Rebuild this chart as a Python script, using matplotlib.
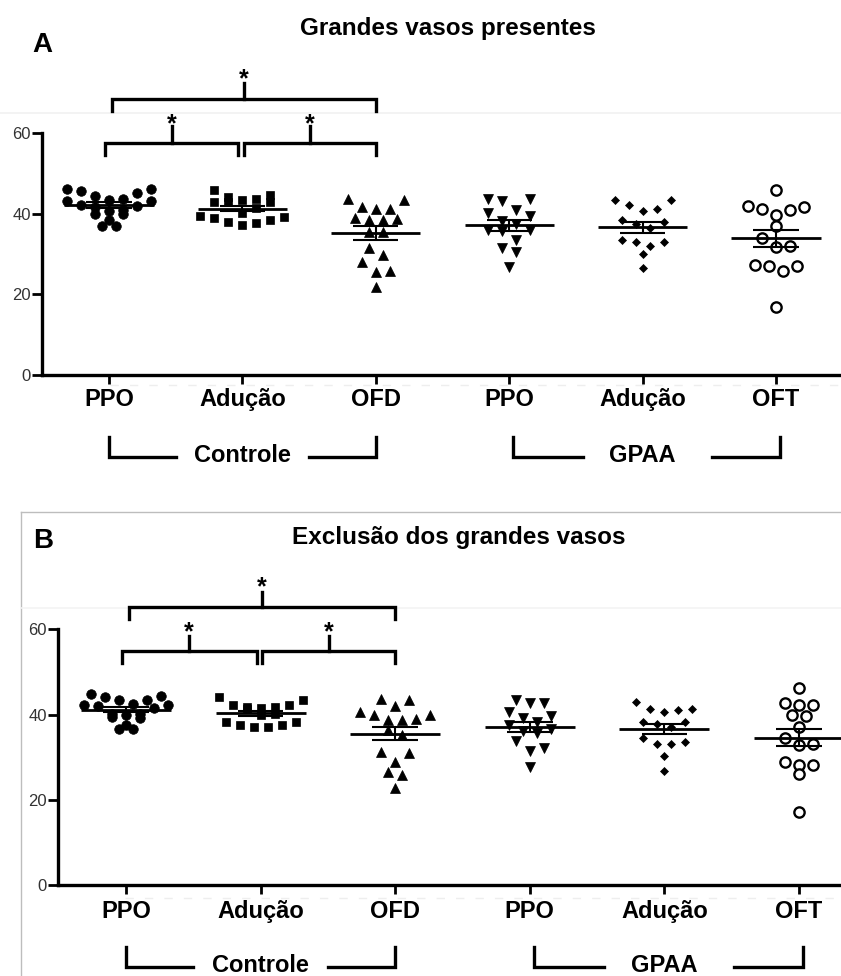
import numpy as np
import matplotlib
matplotlib.use('Agg')
import matplotlib.pyplot as plt
from matplotlib.lines import Line2D
from matplotlib.transforms import blended_transform_factory

plt.rcParams['font.family'] = ['Liberation Sans', 'DejaVu Sans']

# ---------------- data ----------------
categories = ['PPO', 'Adução', 'OFD', 'PPO', 'Adução', 'OFT']
group_names = ['Controle', 'GPAA']
panel_titles = ['Grandes vasos presentes', 'Exclusão dos grandes vasos']
panel_letters = ['A', 'B']
y_ticks = [0, 20, 40, 60]
sig_pairs = [(0, 1), (1, 2), (0, 2)]   # significant comparisons (*) within Controle

# Panel A - Grandes vasos presentes
a_ctrl_ppo = [46.1, 46.1, 45.7, 45.2, 44.4, 43.7, 43.4, 43.3, 43.2, 42.2, 42.0, 41.8,
              41.0, 40.8, 40.0, 40.0, 38.5, 37.0, 37.0]
a_ctrl_adu = [45.9, 44.7, 44.1, 43.7, 43.4, 43.0, 43.0, 43.0, 41.4, 40.3, 39.5, 39.3,
              38.9, 38.5, 38.1, 37.7, 37.2]
a_ctrl_ofd = [43.7, 43.4, 41.6, 41.1, 41.1, 39.0, 38.8, 38.5, 38.5, 35.5, 35.4, 31.5,
              29.8, 28.0, 25.8, 25.6, 21.8]
a_gpaa_ppo = [43.6, 43.6, 43.3, 41.0, 40.2, 39.5, 38.3, 37.6, 36.0, 36.0, 35.8, 33.5,
              31.6, 30.6, 26.8]
a_gpaa_adu = [43.5, 43.4, 42.3, 41.3, 40.8, 38.4, 38.0, 37.4, 36.5, 33.5, 32.9, 32.9,
              32.1, 30.1, 26.5]
a_gpaa_oft = [45.9, 42.0, 41.6, 41.1, 41.0, 39.8, 36.9, 33.9, 32.1, 31.7, 27.2, 27.0,
              27.0, 25.8, 16.8]

# Panel B - Exclusão dos grandes vasos
b_ctrl_ppo = [44.9, 44.3, 44.1, 43.5, 43.4, 42.5, 42.3, 42.3, 42.0, 41.5, 40.2, 40.2,
              39.8, 39.5, 39.3, 37.5, 36.5, 36.5]
b_ctrl_adu = [44.0, 43.4, 42.3, 42.3, 41.8, 41.8, 41.6, 41.4, 40.1, 39.8, 38.3, 38.3,
              37.5, 37.5, 37.1, 37.0]
b_ctrl_ofd = [43.7, 43.5, 41.9, 40.6, 40.0, 40.0, 38.9, 38.7, 38.7, 36.3, 35.2, 31.3,
              30.9, 28.9, 26.4, 25.8, 22.8]
b_gpaa_ppo = [43.4, 42.7, 42.6, 40.6, 39.6, 39.3, 38.3, 37.5, 36.7, 36.2, 35.6, 33.8,
              32.2, 31.4, 27.8]
b_gpaa_adu = [43.0, 41.4, 41.2, 41.0, 40.6, 38.3, 38.3, 37.7, 37.0, 34.6, 33.6, 33.2,
              33.0, 30.3, 26.8]
b_gpaa_oft = [46.3, 42.6, 42.3, 42.2, 39.8, 39.6, 37.1, 34.5, 33.2, 32.8, 28.9, 28.2,
              28.2, 26.0, 17.2]

panel_data = [
    [a_ctrl_ppo, a_ctrl_adu, a_ctrl_ofd, a_gpaa_ppo, a_gpaa_adu, a_gpaa_oft],
    [b_ctrl_ppo, b_ctrl_adu, b_ctrl_ofd, b_gpaa_ppo, b_gpaa_adu, b_gpaa_oft],
]

# ---------------- styles / layout ----------------
marker_styles = [
    dict(marker='o', ms=6.9, mfc='black', mec='black', mew=0.5),
    dict(marker='s', ms=6.0, mfc='black', mec='black', mew=0.5),
    dict(marker='^', ms=6.8, mfc='black', mec='black', mew=0.5),
    dict(marker='v', ms=6.8, mfc='black', mec='black', mew=0.5),
    dict(marker='D', ms=4.4, mfc='black', mec='black', mew=0.5),
    dict(marker='o', ms=7.4, mfc='white', mec='black', mew=1.7),
]

W, H = 841, 976
layouts = [
    dict(left=41.5, x1=109.0, dx=133.4, y0=375.0, y60=133.3,
         inner=(57.6, 54.5, 61.7, 64.0), outer=(68.6, 65.5, 72.5, 75.2),
         letter=(42, 52.5), title=(448, 35.5), label_pad=2.6),
    dict(left=57.5, x1=126.0, dx=134.6, y0=885.0, y60=629.3,
         inner=(54.8, 52.0, 58.5, 61.0), outer=(65.2, 62.3, 68.8, 71.6),
         letter=(43.3, 548.3), title=(458.3, 544.3), label_pad=4.6),
]

fig = plt.figure(figsize=(W / 100, H / 100), dpi=100)


def swarm_offsets(vals, h, w):
    """Prism-like row layout: values within h of a row's top share a row."""
    vals = np.asarray(vals, float)
    order = np.argsort(-vals, kind='stable')
    offs = np.zeros(len(vals))
    i = 0
    while i < len(order):
        start = vals[order[i]]
        row = [order[i]]
        j = i + 1
        while j < len(order) and vals[order[j]] >= start - h:
            row.append(order[j])
            j += 1
        n = len(row)
        slots = (np.arange(n) - (n - 1) / 2) * w
        slot_order = sorted(range(n), key=lambda k: (abs(slots[k]), -slots[k]))
        row_sorted = sorted(row, key=lambda idx: vals[idx])
        for idx, k in zip(row_sorted, slot_order):
            offs[idx] = slots[k]
        i = j
    return offs


def fig_line(x0, y0, x1, y1, **kw):
    fig.add_artist(Line2D([x0 / W, x1 / W], [1 - y0 / H, 1 - y1 / H],
                          transform=fig.transFigure, zorder=-5, **kw))


# decorative frame lines of the original composite
fig_line(0, 113.3, W, 113.3, color='#f1f1f1', lw=1.2)
fig_line(110, 385, W, 385, color='#eeeeee', lw=1.0, ls=(0, (6, 8)))
fig_line(20.7, 511.7, W, 511.7, color='#bdbdbd', lw=1.0)
fig_line(20.7, 511.7, 20.7, H, color='#bdbdbd', lw=1.0)
fig_line(20.7, 608, W, 608, color='#f3f3f3', lw=1.2)
fig_line(125, 898, W, 898, color='#eeeeee', lw=1.0, ls=(0, (6, 8)))

for p, (data, L) in enumerate(zip(panel_data, layouts)):
    xmin = 1 - (L['x1'] - L['left']) / L['dx']
    xmax = 6.5
    right_px = L['x1'] + (xmax - 1) * L['dx']
    ax_h = L['y0'] - L['y60']
    ax = fig.add_axes([L['left'] / W, 1 - L['y0'] / H,
                       (right_px - L['left']) / W, ax_h / H])
    ax.patch.set_alpha(0)
    ax.set_xlim(xmin, xmax)
    ax.set_ylim(0, 60)
    px_per_unit = ax_h / 60.0

    for i, vals in enumerate(data):
        x = i + 1
        offs = swarm_offsets(vals, 11.0 / px_per_unit, 14.0 / L['dx'])
        ax.plot(x + offs, vals, ls='none', zorder=2, clip_on=False, **marker_styles[i])
        v = np.asarray(vals, float)
        m = v.mean()
        sem = v.std(ddof=1) / np.sqrt(len(v))
        ax.hlines(m, x - 0.335, x + 0.335, color='black', lw=2.0, zorder=3)
        ax.hlines([m - sem, m + sem], x - 0.17, x + 0.17, color='black', lw=1.5, zorder=3)
        ax.vlines(x, m - sem, m + sem, color='black', lw=1.5, zorder=3)

    # axes styling
    for s in ['top', 'right']:
        ax.spines[s].set_visible(False)
    for s in ['left', 'bottom']:
        ax.spines[s].set_linewidth(2.4)
    ax.set_yticks(y_ticks)
    ax.set_xticks(range(1, len(categories) + 1))
    ax.set_xticklabels(categories, fontsize=17, fontweight='bold')
    ax.tick_params(axis='y', length=7.3, width=2.0, labelsize=12,
                   labelcolor='#333333', pad=0.5)
    ax.tick_params(axis='x', length=6.5, width=2.0, pad=L['label_pad'])

    # significance brackets
    inner, outer = L['inner'], L['outer']
    spans = {(0, 1): (0.97, 1.97), (1, 2): (2.01, 3.0), (0, 2): (1.02, 3.0)}
    for a, b in sig_pairs:
        xa, xb = spans[(a, b)]
        yh, yl, yt, ys = outer if (b - a) > 1 else inner
        xc = (xa + xb) / 2
        ax.plot([xa, xa, xb, xb], [yl, yh, yh, yl], color='black', lw=2.4,
                clip_on=False, solid_joinstyle='miter')
        ax.plot([xc, xc], [yh, yt], color='black', lw=2.4, clip_on=False)
        ax.annotate('*', xy=(xc, ys), xytext=(0, -10.3), textcoords='offset points',
                    ha='center', va='baseline', fontsize=18, fontweight='bold',
                    annotation_clip=False)

    # group brackets under the axis
    tr = blended_transform_factory(ax.transData, ax.transAxes)
    top_f = -62 / ax_h
    bot_f = -82 / ax_h
    base_f = -86.5 / ax_h
    for g, (name, (a1, a2, b1, b2)) in enumerate(zip(group_names,
                                                     [(1.0, 1.5, 2.5, 3.0),
                                                      (4.03, 4.55, 5.52, 6.03)])):
        ax.plot([a1, a1, a2], [top_f, bot_f, bot_f], transform=tr, color='black',
                lw=2.4, clip_on=False, solid_joinstyle='miter')
        ax.plot([b1, b2, b2], [bot_f, bot_f, top_f], transform=tr, color='black',
                lw=2.4, clip_on=False, solid_joinstyle='miter')
        ax.text(2 + 3 * g, base_f, name, transform=tr, ha='center', va='baseline',
                fontsize=17, fontweight='bold', clip_on=False)

    # panel letter and title
    fig.text(L['letter'][0] / W, 1 - L['letter'][1] / H, panel_letters[p],
             ha='center', va='baseline', fontsize=20, fontweight='bold')
    fig.text(L['title'][0] / W, 1 - L['title'][1] / H, panel_titles[p],
             ha='center', va='baseline', fontsize=17.5, fontweight='bold')

fig.savefig('out.png', dpi=100)
